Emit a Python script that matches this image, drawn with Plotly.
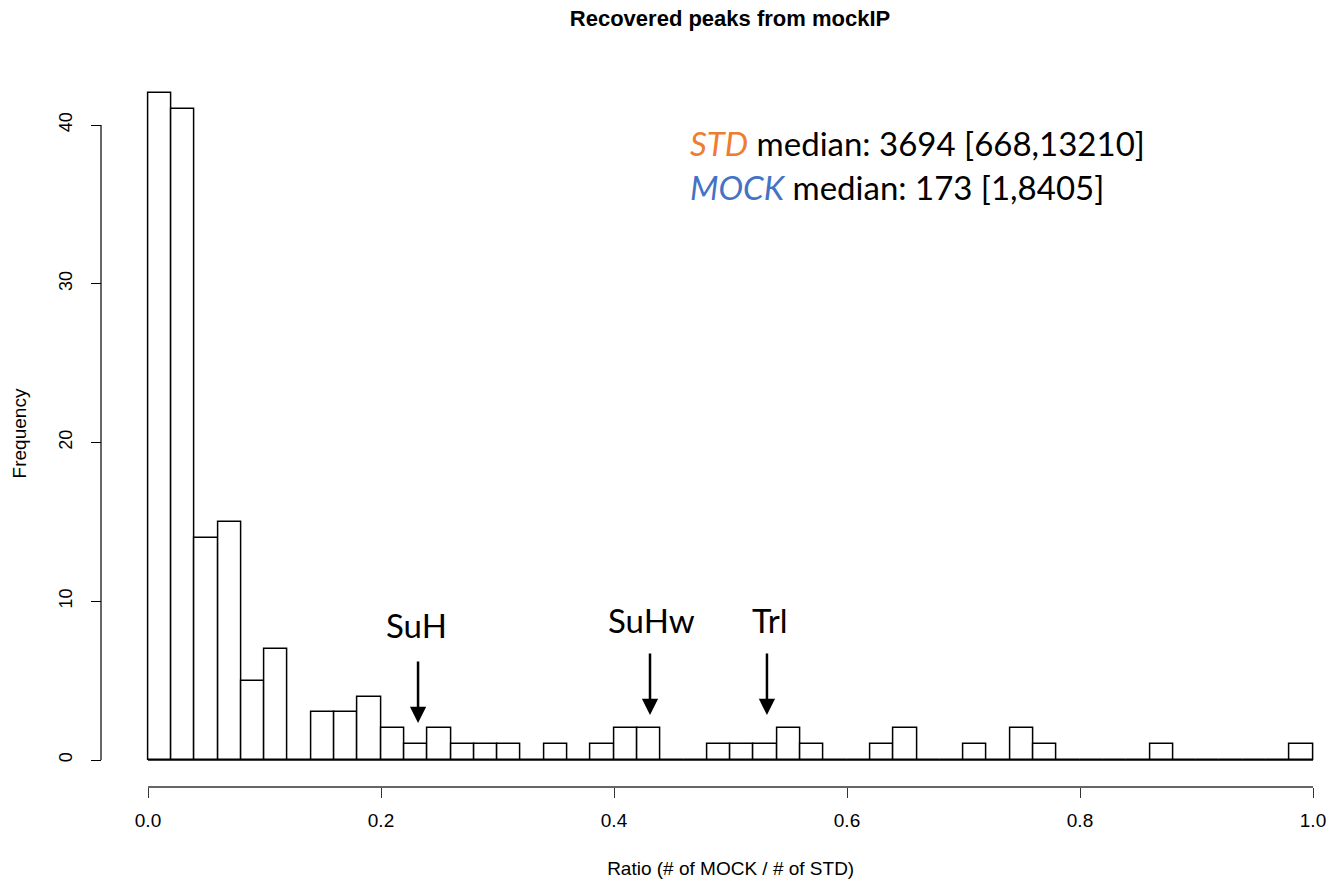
import plotly.graph_objects as go

# ---- data ----
bin_width = 0.02
bin_starts = [round(i * bin_width, 2) for i in range(50)]
counts = [42, 41, 14, 15, 5, 7, 0, 3, 3, 4,
          2, 1, 2, 1, 1, 1, 0, 1, 0, 1,
          2, 2, 0, 0, 1, 1, 1, 2, 1, 0,
          0, 1, 2, 0, 0, 1, 0, 2, 1, 0,
          0, 0, 0, 1, 0, 0, 0, 0, 0, 1]
x_tick_vals = [0.0, 0.2, 0.4, 0.6, 0.8, 1.0]
x_tick_text = ["0.0", "0.2", "0.4", "0.6", "0.8", "1.0"]
y_tick_vals = [0, 10, 20, 30, 40]

label_names = ["SuH", "SuHw", "Trl"]
label_x = [0.2303, 0.4322, 0.5335]
label_y = [8.5, 8.82, 8.82]
arrow_x = [0.2318, 0.4309, 0.5313]
arrow_top = [6.3, 6.8, 6.8]
arrow_tip = [2.33, 2.83, 2.83]

centers = [s + bin_width / 2 for s in bin_starts]

FONT = "Liberation Sans, Arial, Helvetica, sans-serif"
ANN_FONT = "Lato, Open Sans, sans-serif"

fig = go.Figure()
fig.add_trace(go.Bar(
    x=centers, y=counts, width=bin_width,
    marker=dict(color="white", line=dict(color="black", width=1.5)),
    showlegend=False, hoverinfo="x+y",
))

W, H = 1331, 881
# pixel geometry
X0_PX, X1_PX = 148, 1313      # data x=0 and x=1
pad = 0.01                    # extra x range so edge bars are not clipped
L = 101
upx = (X1_PX - X0_PX)         # px per 1.0
R_edge = X1_PX + pad * upx
R = int(round(W - R_edge))
plot_w = W - L - R
dom0_px = X0_PX - pad * upx
T, B = 80, 94
plot_h = H - T - B
px_per_unit = 15.875
ymin = -(787 - 760) / px_per_unit
ymax = ymin + plot_h / px_per_unit
x_lo = -pad
x_hi = 1 + pad + ((W - R) - R_edge) / upx

shapes = [
    # histogram baseline (zero-height bins)
    dict(type="line", xref="x", yref="y", x0=0, x1=1, y0=0, y1=0,
         line=dict(color="black", width=1.5), layer="above"),
    # detached x axis line (0..1)
    dict(type="line", xref="x", yref="paper", x0=0, x1=1, y0=0, y1=0,
         line=dict(color="#333", width=1.6)),
    # detached y axis line (0..40)
    dict(type="line", xref="paper", yref="y", x0=0, x1=0, y0=0, y1=40,
         line=dict(color="black", width=1.2)),
]

annotations = []
for name, lx, ly in zip(label_names, label_x, label_y):
    annotations.append(dict(x=lx, y=ly, xref="x", yref="y", text=name,
                            showarrow=False, xanchor="center", yanchor="middle",
                            font=dict(family=ANN_FONT, size=33, color="black")))
for ax_, top, tip in zip(arrow_x, arrow_top, arrow_tip):
    annotations.append(dict(x=ax_, y=tip, xref="x", yref="y", ax=ax_, ay=top,
                            axref="x", ayref="y", text="", showarrow=True,
                            arrowhead=2, arrowsize=1.3, arrowwidth=2.5,
                            arrowcolor="black"))

annotations.append(dict(
    x=0.4635, y=38.87, xref="x", yref="y", xanchor="left", yanchor="middle",
    showarrow=False,
    text="<i><span style='color:#ED7D31'>STD</span></i> median: 3694 [668,13210]",
    font=dict(family=ANN_FONT, size=33, color="black")))
annotations.append(dict(
    x=0.4635, y=36.09, xref="x", yref="y", xanchor="left", yanchor="middle",
    showarrow=False,
    text="<i><span style='color:#4472C4'>MOCK</span></i> median: 173 [1,8405]",
    font=dict(family=ANN_FONT, size=33, color="black")))

fig.update_layout(
    width=W, height=H, autosize=False,
    margin=dict(l=L, r=R, t=T, b=B, pad=0),
    paper_bgcolor="white", plot_bgcolor="white",
    font=dict(family=FONT, color="black"),
    title=dict(text="<b>Recovered peaks from mockIP</b>",
               x=(730 - L) / plot_w, xref="paper", xanchor="center",
               y=1 - 18 / H, yref="container", yanchor="middle",
               font=dict(family=FONT, size=22, color="black")),
    bargap=0,
    xaxis=dict(domain=[(dom0_px - L) / plot_w, 1], range=[x_lo, x_hi],
               showline=False,
               ticks="outside", ticklen=10, tickwidth=1, tickcolor="#333",
               tickvals=x_tick_vals, ticktext=x_tick_text,
               ticklabelstandoff=6,
               tickfont=dict(size=19), showgrid=False, zeroline=False,
               title=dict(text="Ratio (# of MOCK / # of STD)",
                          font=dict(size=19), standoff=31),
               automargin=False, fixedrange=True),
    yaxis=dict(domain=[0, 1], range=[ymin, ymax], anchor="free", position=0,
               showline=False, ticks="outside", ticklen=10, tickwidth=1,
               tickcolor="black", tickvals=y_tick_vals, tickangle=-90,
               ticklabelstandoff=12,
               tickfont=dict(size=18), showgrid=False, zeroline=False,
               title=dict(text="Frequency", font=dict(size=19), standoff=23),
               automargin=False, fixedrange=True),
    shapes=shapes,
    annotations=annotations,
)

fig.write_html("out.html")
